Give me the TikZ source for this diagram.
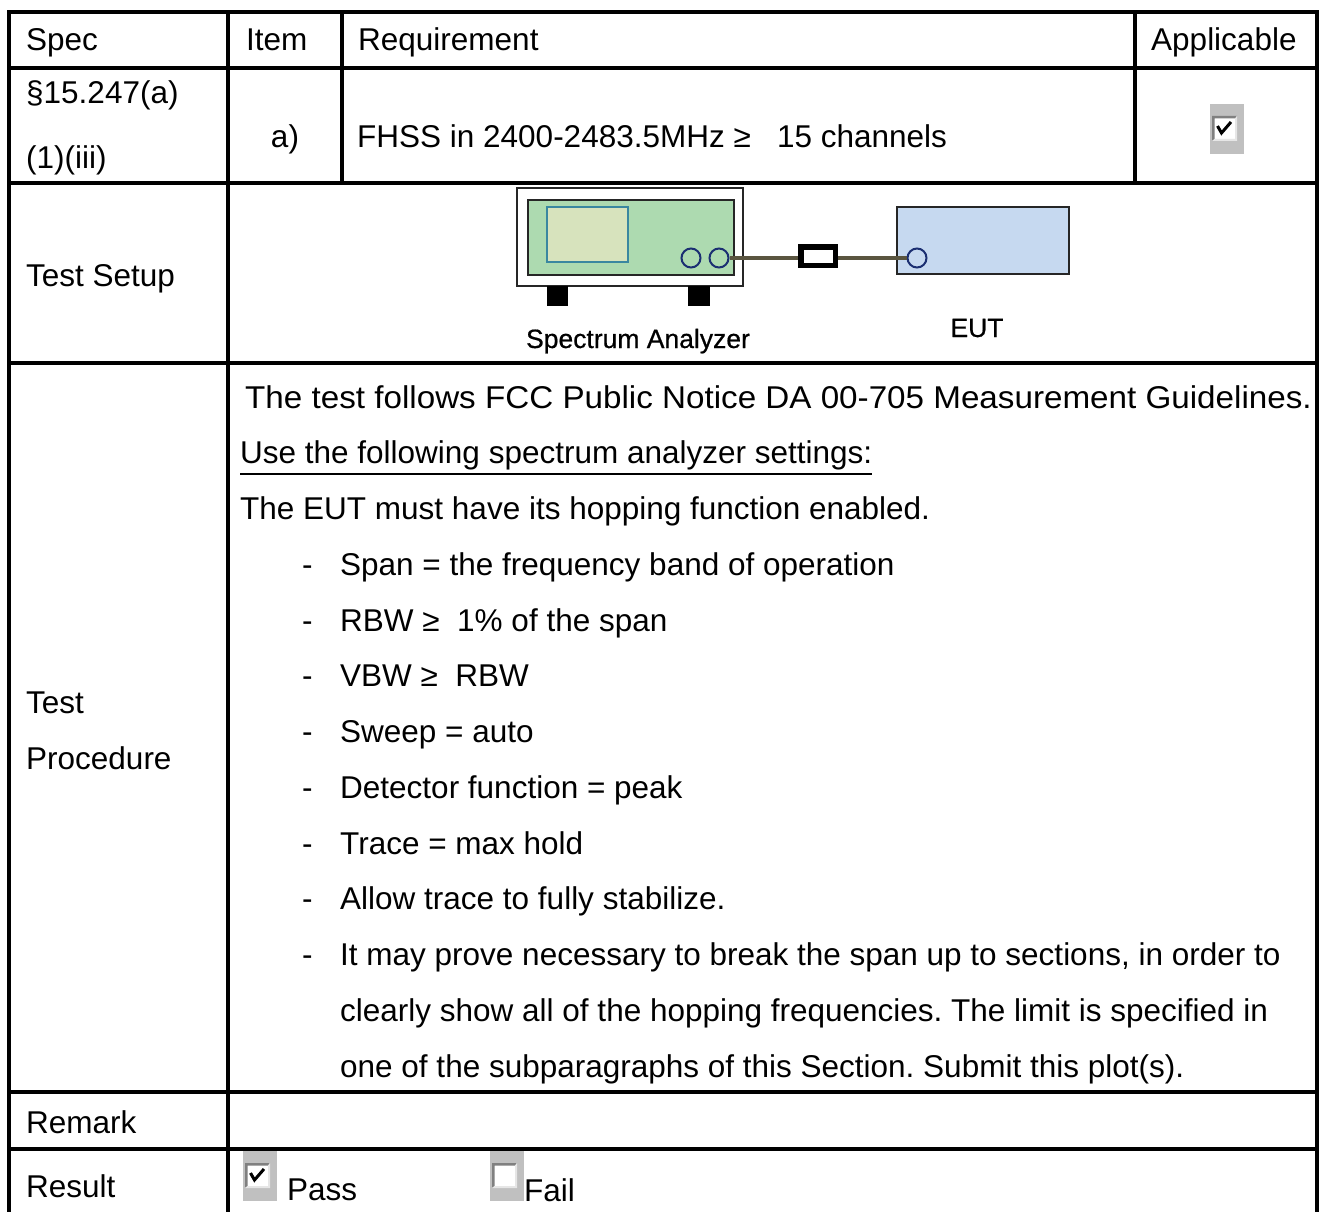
\documentclass[tikz,border=0pt]{standalone}
\usepackage{fontspec}
\setmainfont{Liberation Sans}
\definecolor{panelgreen}{HTML}{ADDAB0}
\definecolor{screenfill}{HTML}{D7E3BD}
\definecolor{screenline}{HTML}{3A87A0}
\definecolor{portblue}{HTML}{1B2F72}
\definecolor{eutblue}{HTML}{C6D9F0}
\definecolor{cablecol}{HTML}{5A5540}
\definecolor{boxgray}{HTML}{C0C0C0}
\definecolor{bevdark}{HTML}{808080}
\definecolor{bevlight}{HTML}{E6E6E6}
\frenchspacing
\begin{document}
\begin{tikzpicture}[x=1pt,y=-1pt,
  txt/.style={anchor=base west, inner sep=0pt, font=\fontsize{31.5}{37.8}\selectfont},
  smalltxt/.style={anchor=base, inner sep=0pt, font=\fontsize{26.5}{32}\selectfont\addfontfeature{FakeBold=0.6}},
  gridline/.style={line width=3.5pt, line cap=rect},
  devline/.style={line width=1.9pt, draw=black!85},
  port/.style={circle, draw=portblue, line width=2pt, minimum size=19pt, inner sep=0pt},
  cable/.style={draw=cablecol, line width=3.2pt},
  boxon/.pic={
    \fill[boxgray] (0,0) rectangle (34,50);
    \fill[white] (2,12) rectangle (27,37);
    \fill[bevdark] (2,12) -- (27,12) -- (25,14.5) -- (4.5,14.5) -- (4.5,35) -- (2,37) -- cycle;
    \fill[bevlight] (27,12) -- (27,37) -- (2,37) -- (4.5,35) -- (25,35) -- (25,14.5) -- cycle;
    \draw[line width=3pt, line join=miter] (7.5,22) -- (11.5,29) -- (21,18);
  },
  boxoff/.pic={
    \fill[boxgray] (0,0) rectangle (34,50);
    \fill[white] (2,12) rectangle (27,37);
    \fill[bevdark] (2,12) -- (27,12) -- (25,14.5) -- (4.5,14.5) -- (4.5,35) -- (2,37) -- cycle;
    \fill[bevlight] (27,12) -- (27,37) -- (2,37) -- (4.5,35) -- (25,35) -- (25,14.5) -- cycle;
  }
]
\useasboundingbox (0,0) rectangle (1323,1212);
\fill[white] (0,0) rectangle (1323,1212);

% ---- table grid ----
\draw[gridline] (9,12) -- (1317,12);
\draw[gridline] (9,68) -- (1317,68);
\draw[gridline] (9,183) -- (1317,183);
\draw[gridline] (9,363) -- (1317,363);
\draw[gridline] (9,1092) -- (1317,1092);
\draw[gridline] (9,1149) -- (1317,1149);
\draw[gridline] (9,12) -- (9,1214);
\draw[gridline] (228,12) -- (228,1214);
\draw[gridline] (342,12) -- (342,183);
\draw[gridline] (1135,12) -- (1135,183);
\draw[gridline] (1317,12) -- (1317,1214);

% ---- header ----
\node[txt] (hspec) at (26,51) {Spec};
\node[txt] (hitem) at (246,51) {Item};
\node[txt] (hreq) at (358,51) {Requirement};
\node[txt] (happ) at (1151,51) {Applicable};

% ---- row a ----
\node[txt] (spec1) at (26,104) {§15.247(a)};
\node[txt] (spec2) at (26,168) {(1)(iii)};
\node[txt, anchor=base] (itema) at (285,148) {a)};
\node[txt] (reqa) at (357,148) {FHSS in 2400-2483.5MHz ≥~~~15 channels};
\pic at (1210,104) {boxon};

% ---- test setup ----
\node[txt] (setup) at (26,286) {Test Setup};
\draw[devline, fill=white] (517,188) rectangle (743,286);
\fill[black] (547,286) rectangle (568,306);
\fill[black] (688,286) rectangle (710,306);
\draw[devline, fill=panelgreen] (528,200) rectangle (734,275);
\draw[draw=screenline, line width=1.9pt, fill=screenfill] (547,207) rectangle (628,262);
\node[port] (p1) at (691,258) {};
\node[port] (p2) at (719,258) {};
\draw[devline, fill=eutblue] (897,207) rectangle (1069,274);
\node[port] (p3) at (917,258) {};
\node[draw=black, line width=5.5pt, fill=white, minimum width=34.5pt, minimum height=18.5pt, inner sep=0pt] (att) at (818,256) {};
\draw[cable] (p2.east) -- (att.west |- p2.east);
\draw[cable] (att.east |- p3.west) -- (p3.west);
\node[smalltxt] (salabel) at (638,348) {Spectrum Analyzer};
\node[smalltxt] (eutlabel) at (977,337) {EUT};

% ---- test procedure ----
\node[txt] (proc1) at (26,713) {Test};
\node[txt] (proc2) at (26,769) {Procedure};
\node[txt, xscale=1.054] (l0) at (245,408) {The test follows FCC Public Notice DA 00-705 Measurement Guidelines.};
\node[txt] (l1) at (240,463.75) {Use the following spectrum analyzer settings:};
\draw[line width=2pt] ([yshift=-10pt]l1.base west) -- ([yshift=-10pt]l1.base east);
\node[txt] (l2) at (240,519.5) {The EUT must have its hopping function enabled.};
\foreach \i/\t in {3/{Span = the frequency band of operation},
                   4/{RBW ≥~~1\% of the span},
                   5/{VBW ≥~~RBW},
                   6/{Sweep = auto},
                   7/{Detector function = peak},
                   8/{Trace = max hold},
                   9/{Allow trace to fully stabilize.},
                   10/{It may prove necessary to break the span up to sections, in order to}} {
  \node[txt] (d\i) at (302,408+55.75*\i) {-};
  \node[txt] (l\i) at (340,408+55.75*\i) {\t};
}
\node[txt] (l11) at (340,408+55.75*11) {clearly show all of the hopping frequencies. The limit is specified in};
\node[txt] (l12) at (340,408+55.75*12) {one of the subparagraphs of this Section. Submit this plot(s).};

% ---- remark / result ----
\node[txt] (remark) at (26,1133) {Remark};
\node[txt] (result) at (26,1197) {Result};
\pic at (243,1151) {boxon};
\node[txt] (pass) at (287,1200) {Pass};
\pic at (490,1151) {boxoff};
\node[txt] (fail) at (524,1201) {Fail};
\end{tikzpicture}
\end{document}
